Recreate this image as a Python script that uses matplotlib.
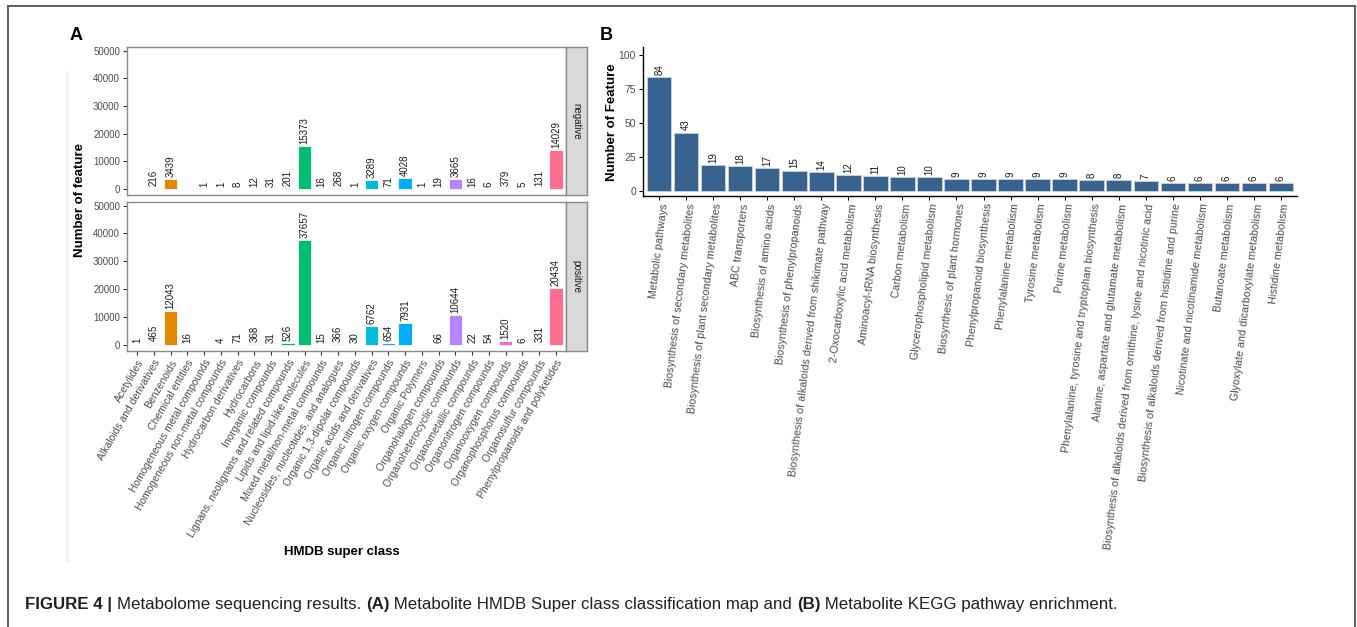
import numpy as np
import matplotlib
matplotlib.use("Agg")
import matplotlib.pyplot as plt
from matplotlib.lines import Line2D

# ---------------- data ----------------
superclasses = [
    "Acetylides", "Alkaloids and derivatives", "Benzenoids", "Chemical entities",
    "Homogeneous metal compounds", "Homogeneous non-metal compounds",
    "Hydrocarbon derivatives", "Hydrocarbons", "Inorganic compounds",
    "Lignans, neolignans and related compounds", "Lipids and lipid-like molecules",
    "Mixed metal/non-metal compounds", "Nucleosides, nucleotides, and analogues",
    "Organic 1,3-dipolar compounds", "Organic acids and derivatives",
    "Organic nitrogen compounds", "Organic oxygen compounds", "Organic Polymers",
    "Organohalogen compounds", "Organoheterocyclic compounds",
    "Organometallic compounds", "Organonitrogen compounds", "Organooxygen compounds",
    "Organophosphorus compounds", "Organosulfur compounds",
    "Phenylpropanoids and polyketides",
]
neg_counts = [np.nan, 216, 3439, np.nan, 1, 1, 8, 12, 31, 201, 15373, 16, 268, 1,
              3289, 71, 4028, 1, 19, 3665, 16, 6, 379, 5, 131, 14029]
pos_counts = [1, 465, 12043, 16, np.nan, 4, 71, 368, 31, 526, 37657, 15, 366, 30,
              6762, 654, 7931, np.nan, 66, 10644, 22, 54, 1520, 6, 331, 20434]
modes = ["negative", "positive"]
a_yticks = [0, 10000, 20000, 30000, 40000, 50000]

pathways = [
    "Metabolic pathways", "Biosynthesis of secondary metabolites",
    "Biosynthesis of plant secondary metabolites", "ABC transporters",
    "Biosynthesis of amino acids", "Biosynthesis of phenylpropanoids",
    "Biosynthesis of alkaloids derived from shikimate pathway",
    "2-Oxocarboxylic acid metabolism", "Aminoacyl-tRNA biosynthesis",
    "Carbon metabolism", "Glycerophospholipid metabolism",
    "Biosynthesis of plant hormones", "Phenylpropanoid biosynthesis",
    "Phenylalanine metabolism", "Tyrosine metabolism", "Purine metabolism",
    "Phenylalanine, tyrosine and tryptophan biosynthesis",
    "Alanine, aspartate and glutamate metabolism",
    "Biosynthesis of alkaloids derived from ornithine, lysine and nicotinic acid",
    "Biosynthesis of alkaloids derived from histidine and purine",
    "Nicotinate and nicotinamide metabolism", "Butanoate metabolism",
    "Glyoxylate and dicarboxylate metabolism", "Histidine metabolism",
]
pathway_counts = [84, 43, 19, 18, 17, 15, 14, 12, 11, 10, 10, 9, 9, 9, 9, 9,
                  8, 8, 7, 6, 6, 6, 6, 6]
b_yticks = [0, 25, 50, 75, 100]

# ---------------- style ----------------
W, H = 1357, 627
plt.rcParams["font.family"] = ["Liberation Sans", "DejaVu Sans"]
TICK_GREY = "#4D4D4D"
FRAME_GREY = "#8A8A8A"


def hue_palette(n, c=100.0, l=65.0, h0=15.0):
    """Evenly spaced HCL hues (polar CIE-Luv), as in ggplot's default scale."""
    Xn, Yn, Zn = 95.047, 100.0, 108.883
    den = Xn + 15 * Yn + 3 * Zn
    un, vn = 4 * Xn / den, 9 * Yn / den
    M = np.array([[3.240479, -1.537150, -0.498535],
                  [-0.969256, 1.875992, 0.041556],
                  [0.055648, -0.204043, 1.057311]])
    out = []
    for i in range(n):
        h = np.deg2rad(h0 + i * 360.0 / n)
        u, v = c * np.cos(h), c * np.sin(h)
        Y = Yn * ((l + 16) / 116) ** 3
        up, vp = u / (13 * l) + un, v / (13 * l) + vn
        X = Y * 9 * up / (4 * vp)
        Z = Y * (12 - 3 * up - 20 * vp) / (4 * vp)
        lin = M @ np.array([X, Y, Z]) / 100.0
        rgb = np.where(lin <= 0.0031308, 12.92 * lin,
                       1.055 * np.clip(lin, 0, None) ** (1 / 2.4) - 0.055)
        out.append(tuple(np.clip(rgb, 0, 1)))
    return out


def px_rect(left, top, right, bottom):
    return [left / W, 1 - bottom / H, (right - left) / W, (bottom - top) / H]


fig = plt.figure(figsize=(W / 100, H / 100), dpi=100)
fig.patch.set_facecolor("white")

# outer frame of the figure
for xs, ys in [([8, 8], [627, 6]), ([8, 1355], [6, 6]), ([1355, 1355], [627, 6])]:
    fig.add_artist(Line2D([x / W for x in xs], [1 - y / H for y in ys],
                          transform=fig.transFigure, color="#444444", lw=1.2))
# faint guide line at the left of panel A
fig.add_artist(Line2D([67 / W, 67 / W], [1 - 560 / H, 1 - 72 / H],
                      transform=fig.transFigure, color="#F1F1F1", lw=2.0))

# ---------------- panel A ----------------
colors = hue_palette(len(superclasses))
xa = np.arange(len(superclasses))
rows = [(47, 195), (202, 351)]
for k, (mode, counts) in enumerate(zip(modes, [neg_counts, pos_counts])):
    top, bottom = rows[k]
    ax = fig.add_axes(px_rect(127, top, 566, bottom))
    vals = np.array(counts, dtype=float)
    keep = ~np.isnan(vals)
    ax.bar(xa[keep], vals[keep], width=0.8,
           color=[colors[i] for i in xa[keep]], edgecolor="white", linewidth=0.6)
    for i in xa[keep]:
        ax.annotate(f"{int(vals[i])}", (i, vals[i]), xytext=(0, 1.5),
                    textcoords="offset points", rotation=90, ha="center",
                    va="bottom", fontsize=7, color="#1A1A1A")
    ax.set_xlim(-0.6, len(superclasses) - 0.4)
    ax.set_ylim(-2200, 51300)
    ax.set_yticks(a_yticks)
    ax.set_yticklabels([str(t) for t in a_yticks])
    ax.tick_params(axis="y", labelsize=7, colors="#333333", labelcolor=TICK_GREY,
                   length=3, width=0.8, pad=2)
    ax.set_xticks(xa)
    if k == 1:
        ax.set_xticklabels(superclasses, rotation=60, ha="right",
                           rotation_mode="anchor", fontsize=7.5, color=TICK_GREY)
        ax.tick_params(axis="x", colors="#333333", labelcolor=TICK_GREY,
                       length=3, width=0.8, pad=2)
    else:
        ax.tick_params(axis="x", length=0, labelbottom=False)
    for s in ax.spines.values():
        s.set_color(FRAME_GREY)
        s.set_linewidth(1.0)

    # facet strip on the right
    sax = fig.add_axes(px_rect(566, top, 587, bottom))
    sax.set_facecolor("#D9D9D9")
    sax.set_xticks([])
    sax.set_yticks([])
    for s in sax.spines.values():
        s.set_color(FRAME_GREY)
        s.set_linewidth(1.0)
    sax.text(0.5, 0.5, mode, rotation=-90, ha="center", va="center",
             fontsize=7, color="#1A1A1A", transform=sax.transAxes)

fig.text(80 / W, 1 - 200 / H, "Number of feature", rotation=90, ha="center",
         va="center", fontsize=9.5, fontweight="bold")
fig.text(342 / W, 1 - 552 / H, "HMDB super class", ha="center", va="center",
         fontsize=9.5, fontweight="bold")
fig.text(76 / W, 1 - 36 / H, "A", ha="center", va="center", fontsize=13,
         fontweight="bold")

# ---------------- panel B ----------------
axb = fig.add_axes(px_rect(643, 47, 1297, 196))
xb = np.arange(len(pathways))
axb.bar(xb, pathway_counts, width=0.9, color="#37638E", edgecolor="#C8D3DE",
        linewidth=0.6)
for i, v in zip(xb, pathway_counts):
    axb.annotate(str(v), (i, v), xytext=(0, 1.5), textcoords="offset points",
                 rotation=90, ha="center", va="bottom", fontsize=7, color="#1A1A1A")
axb.set_xlim(-0.6, len(pathways) - 0.4)
axb.set_ylim(-3.7, 105.9)
axb.set_yticks(b_yticks)
axb.set_yticklabels([str(t) for t in b_yticks])
axb.set_xticks(xb)
axb.set_xticklabels(pathways, rotation=83, ha="right", rotation_mode="anchor",
                    fontsize=7.75, color=TICK_GREY)
axb.tick_params(axis="both", colors="black", labelcolor=TICK_GREY, length=3,
                width=0.8, pad=2)
axb.tick_params(axis="y", labelsize=7.5)
for side in ["top", "right"]:
    axb.spines[side].set_visible(False)
for side in ["left", "bottom"]:
    axb.spines[side].set_color("black")
    axb.spines[side].set_linewidth(1.0)
fig.text(612 / W, 1 - 122 / H, "Number of Feature", rotation=90, ha="center",
         va="center", fontsize=9.5, fontweight="bold")
fig.text(606 / W, 1 - 36 / H, "B", ha="center", va="center", fontsize=13,
         fontweight="bold")

# ---------------- caption ----------------
caption = [
    ("FIGURE 4 | ", "bold"),
    ("Metabolome sequencing results. ", "normal"),
    ("(A)", "bold"),
    (" Metabolite HMDB Super class classification map and ", "normal"),
    ("(B)", "bold"),
    (" Metabolite KEGG pathway enrichment.", "normal"),
]
renderer = fig.canvas.get_renderer()
x_px = 25.0
for piece, weight in caption:
    t = fig.text(x_px / W, 1 - 604 / H, piece, ha="left", va="center",
                 fontsize=12.2, fontweight=weight, color="#231F20")
    bb = t.get_window_extent(renderer=renderer)
    x_px += bb.width

fig.savefig("out.png", dpi=100, facecolor="white")
